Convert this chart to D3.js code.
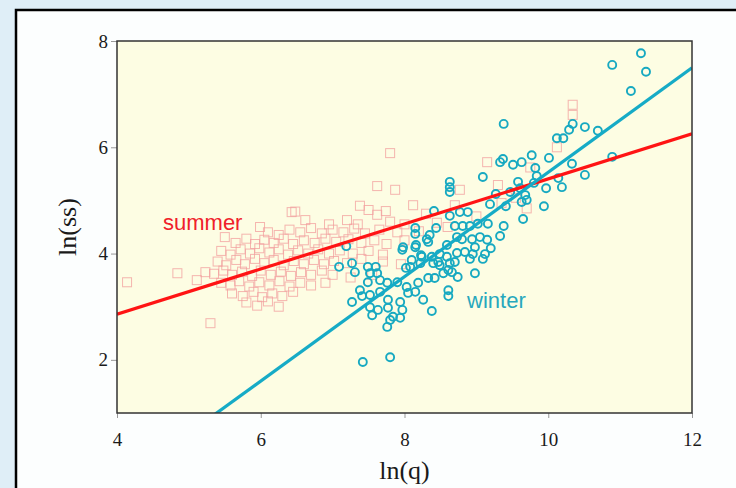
<!DOCTYPE html>
<html>
<head>
<meta charset="utf-8">
<script src="https://cdn.jsdelivr.net/npm/d3@7"></script>
<style>
  body { margin: 0; background: #dfeef7; }
  svg { display: block; }
</style>
</head>
<body>
<svg id="chart" width="736" height="488"></svg>
<script>
// winter observations [ln(q), ln(ss)]
var winter = [
  [11.29,7.77],[10.89,7.55],[11.36,7.42],[11.15,7.06],[10.34,6.44],[10.51,6.38],[10.69,6.31],[10.29,6.33],
  [10.21,6.17],[10.12,6.17],[10.89,5.82],[10.01,5.80],[9.77,5.85],[10.33,5.69],[9.82,5.61],[9.84,5.46],
  [10.14,5.42],[10.51,5.48],[9.97,5.23],[10.19,5.25],[9.80,5.33],[9.94,4.89],[9.38,6.44],[9.33,5.72],
  [9.37,5.78],[9.51,5.67],[9.63,5.72],[9.09,5.44],[8.63,5.35],[8.63,5.25],[8.63,5.16],[9.58,5.35],
  [9.27,5.12],[9.47,5.16],[9.61,5.23],[9.68,5.10],[9.70,5.01],[9.19,4.93],[9.41,4.89],[9.63,4.97],
  [9.65,4.65],[8.41,4.80],[8.63,4.71],[8.77,4.78],[8.88,4.78],[8.70,4.52],[8.81,4.52],[8.91,4.52],
  [9.02,4.56],[9.16,4.56],[9.38,4.52],[9.33,4.33],[8.15,4.48],[8.15,4.37],[8.31,4.27],[8.44,4.48],
  [8.35,4.35],[7.98,4.12],[7.97,4.07],[8.15,4.12],[8.59,4.16],[8.73,4.31],[8.80,4.27],[8.94,4.27],
  [9.05,4.31],[9.15,4.26],[9.20,4.10],[9.12,3.99],[9.09,3.90],[8.98,4.12],[8.95,3.99],[8.84,4.03],
  [8.91,3.90],[8.73,4.01],[8.70,3.84],[8.59,3.94],[8.63,3.82],[8.61,3.69],[8.49,3.99],[8.47,3.84],
  [8.38,3.94],[8.40,3.82],[8.24,3.94],[8.22,3.82],[8.10,3.88],[8.08,3.75],[8.02,3.73],[7.19,4.14],
  [7.09,3.75],[7.27,3.82],[7.31,3.65],[7.49,3.75],[7.52,3.63],[7.60,3.75],[7.62,3.63],[7.49,3.46],
  [7.66,3.50],[7.76,3.45],[7.90,3.46],[8.03,3.37],[8.19,3.45],[8.33,3.54],[8.42,3.54],[8.54,3.63],
  [8.66,3.65],[8.74,3.56],[8.98,3.63],[7.27,3.09],[7.38,3.31],[7.41,3.20],[7.52,3.22],[7.66,3.28],
  [7.77,3.13],[7.94,3.09],[8.05,3.26],[8.15,3.28],[8.26,3.13],[8.38,2.92],[8.61,3.31],[8.61,3.20],
  [7.52,2.99],[7.55,2.84],[7.63,2.94],[7.77,2.98],[7.80,2.75],[7.76,2.62],[7.97,2.94],[7.94,2.79],
  [7.84,2.81],[7.42,1.96],[7.80,2.05],[8.16,4.16],[8.33,4.22],[8.23,3.97],[8.49,3.78]
];

// summer observations [ln(q), ln(ss)]
var summer = [
  [4.14,3.46],[4.84,3.63],[5.11,3.50],[5.23,3.65],[5.30,2.69],[5.50,4.31],[6.43,4.78],[7.80,5.89],
  [7.62,5.27],[7.87,5.20],[9.15,5.72],[9.30,5.29],[8.77,5.20],[10.34,6.61],[10.34,6.80],[10.12,6.00],
  [9.75,5.62],[9.55,5.05],[9.35,4.95],[9.70,4.85],[8.70,4.91],[9.00,4.70],
  [6.48,4.79],[7.38,4.90],[7.50,4.82],[7.62,4.73],[7.74,4.80],[8.12,4.91],[8.30,4.75],
  [6.62,4.63],[6.95,4.55],[7.20,4.63],[7.35,4.55],[7.80,4.60],[8.00,4.55],[8.45,4.58],[8.60,4.50],
  [5.99,4.50],[6.10,4.40],[6.25,4.35],[6.40,4.45],[6.55,4.40],[6.70,4.48],[6.85,4.38],[7.00,4.45],
  [7.15,4.40],[7.30,4.47],[7.45,4.38],[7.65,4.45],[7.90,4.40],[8.20,4.42],
  [5.65,4.20],[5.80,4.28],[5.92,4.18],[6.05,4.26],[6.18,4.20],[6.32,4.28],[6.45,4.18],[6.60,4.25],
  [6.75,4.20],[6.90,4.28],[7.05,4.22],[7.22,4.27],[7.40,4.20],[7.58,4.25],[7.75,4.18],[8.00,4.25],
  [5.45,4.05],[5.58,3.98],[5.72,4.08],[5.85,4.00],[5.98,4.10],[6.12,4.02],[6.25,4.08],[6.38,3.98],
  [6.52,4.06],[6.66,4.00],[6.80,4.08],[6.95,4.00],[7.10,4.06],[7.28,4.00],[7.50,4.05],[7.70,3.98],
  [5.40,3.85],[5.52,3.78],[5.66,3.88],[5.78,3.80],[5.92,3.90],[6.05,3.82],[6.18,3.88],[6.32,3.78],
  [6.46,3.86],[6.60,3.80],[6.74,3.88],[6.88,3.80],[7.02,3.86],[7.20,3.82],[7.40,3.90],[7.70,3.85],[7.95,3.80],
  [5.35,3.62],[5.48,3.68],[5.60,3.60],[5.74,3.66],[5.88,3.58],[6.00,3.68],[6.14,3.60],[6.28,3.66],
  [6.42,3.58],[6.56,3.65],[6.70,3.60],[6.85,3.68],[7.00,3.60],[7.25,3.55],[7.55,3.60],
  [5.45,3.45],[5.58,3.40],[5.70,3.48],[5.84,3.38],[5.98,3.46],[6.12,3.40],[6.26,3.48],[6.40,3.38],
  [6.55,3.45],[6.70,3.40],[6.90,3.45],
  [5.60,3.25],[5.75,3.20],[5.90,3.28],[6.02,3.18],[6.16,3.25],[6.30,3.20],[6.45,3.28],
  [5.80,3.08],[5.95,3.02],[6.10,3.10],[6.25,3.00]
];

// fitted lines: [intercept, slope]
var summerFit = [1.165, 0.424];
var winterFit = [-4.29, 0.982];

var xTicks = [4, 6, 8, 10, 12];
var yTicks = [2, 4, 6, 8];

(function(){
  var svg = d3.select("#chart");

  // slide panel
  svg.append("rect")
    .attr("x", 16).attr("y", 10)
    .attr("width", 760).attr("height", 520)
    .attr("fill", "#fcfefe")
    .attr("stroke", "#000")
    .attr("stroke-width", 2.5);

  var pLeft = 117, pRight = 692, pTop = 41, pBottom = 413;

  var x = d3.scaleLinear().domain([4, 12]).range([pLeft, pRight]);
  var y = d3.scaleLinear().domain([1, 8]).range([pBottom, pTop]);

  svg.append("defs").append("clipPath").attr("id", "plotclip")
    .append("rect")
    .attr("x", pLeft).attr("y", pTop)
    .attr("width", pRight - pLeft).attr("height", pBottom - pTop);

  svg.append("rect")
    .attr("x", pLeft).attr("y", pTop)
    .attr("width", pRight - pLeft).attr("height", pBottom - pTop)
    .attr("fill", "#fdfde3");

  // axes
  var xAxis = svg.append("g")
    .attr("transform", "translate(0," + pBottom + ")")
    .call(d3.axisBottom(x).tickValues(xTicks).tickFormat(d3.format("d")).tickSize(5).tickPadding(15));
  var yAxis = svg.append("g")
    .attr("transform", "translate(" + pLeft + ",0)")
    .call(d3.axisLeft(y).tickValues(yTicks).tickFormat(d3.format("d")).tickSize(6).tickPadding(3));

  [xAxis, yAxis].forEach(function(a){
    a.select(".domain").remove();
    a.selectAll("line").attr("stroke", "#999");
    a.selectAll("text")
      .style("font-family", "'Liberation Serif', 'DejaVu Serif', serif")
      .style("font-size", "19px")
      .attr("fill", "#1a1a1a");
  });

  // points
  var plot = svg.append("g").attr("clip-path", "url(#plotclip)");

  plot.append("g")
    .selectAll("rect")
    .data(summer)
    .enter()
    .append("rect")
    .attr("x", function(d){ return x(d[0]) - 4.5; })
    .attr("y", function(d){ return y(d[1]) - 4.5; })
    .attr("width", 9).attr("height", 9)
    .attr("fill", "none")
    .attr("stroke", "#f19c9c")
    .attr("stroke-opacity", 0.75)
    .attr("stroke-width", 1);

  plot.append("g")
    .selectAll("circle")
    .data(winter)
    .enter()
    .append("circle")
    .attr("cx", function(d){ return x(d[0]); })
    .attr("cy", function(d){ return y(d[1]); })
    .attr("r", 4)
    .attr("fill", "none")
    .attr("stroke", "#17a9c1")
    .attr("stroke-width", 1.9);

  // regression lines
  var fitLine = function(fit){
    return [4, 12].map(function(q){ return [q, fit[0] + fit[1] * q]; });
  };
  var line = d3.line()
    .x(function(d){ return x(d[0]); })
    .y(function(d){ return y(d[1]); });

  plot.append("path")
    .attr("d", line(fitLine(summerFit)))
    .attr("fill", "none")
    .attr("stroke", "#ff1414")
    .attr("stroke-width", 3.2);

  plot.append("path")
    .attr("d", line(fitLine(winterFit)))
    .attr("fill", "none")
    .attr("stroke", "#16abc6")
    .attr("stroke-width", 3.2);

  // frame
  svg.append("rect")
    .attr("x", pLeft).attr("y", pTop)
    .attr("width", pRight - pLeft).attr("height", pBottom - pTop)
    .attr("fill", "none")
    .attr("stroke", "#333")
    .attr("stroke-width", 1.5);

  // labels
  svg.append("text")
    .attr("x", x(4.64)).attr("y", y(4.45))
    .text("summer")
    .style("font-family", "'Liberation Sans', Arial, sans-serif")
    .style("font-size", "22px")
    .attr("fill", "#f0202a");

  svg.append("text")
    .attr("x", x(8.87)).attr("y", y(2.98))
    .text("winter")
    .style("font-family", "'Liberation Sans', Arial, sans-serif")
    .style("font-size", "22px")
    .attr("fill", "#27a8bd");

  svg.append("text")
    .attr("x", (pLeft + pRight) / 2).attr("y", 479)
    .attr("text-anchor", "middle")
    .text("ln(q)")
    .style("font-family", "'Liberation Serif', 'DejaVu Serif', serif")
    .style("font-size", "26px")
    .attr("fill", "#1a1a1a");

  svg.append("text")
    .attr("transform", "translate(76," + ((pTop + pBottom) / 2) + ") rotate(-90)")
    .attr("text-anchor", "middle")
    .text("ln(ss)")
    .style("font-family", "'Liberation Serif', 'DejaVu Serif', serif")
    .style("font-size", "26px")
    .attr("fill", "#1a1a1a");
})();
</script>
</body>
</html>
